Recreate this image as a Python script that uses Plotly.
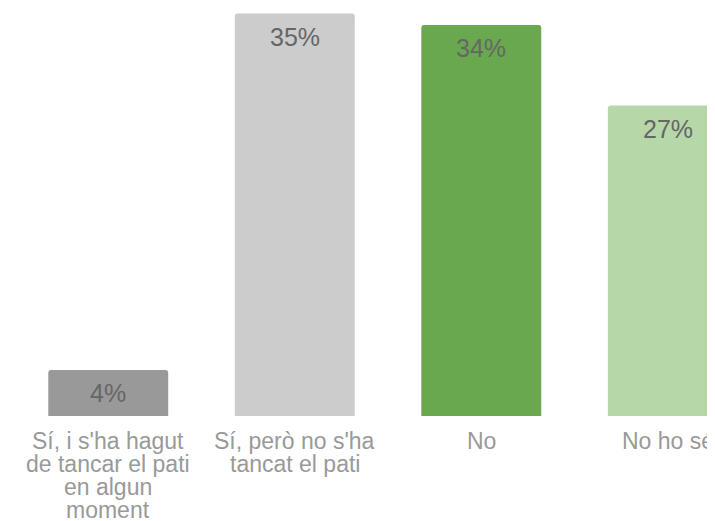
import plotly.graph_objects as go

categories = [
    ["Sí, i s'ha hagut", "de tancar el pati", "en algun", "moment"],
    ["Sí, però no s'ha", "tancat el pati"],
    ["No"],
    ["No ho sé"],
]
values = [4, 35, 34, 27]
labels = ["4%", "35%", "34%", "27%"]
colors = ["#999999", "#cccccc", "#6aa84f", "#b6d7a8"]

FONT = "Arial, Liberation Sans, sans-serif"
xs = list(range(len(values)))

fig = go.Figure(
    go.Bar(
        x=xs,
        y=values,
        marker=dict(color=colors, line=dict(width=0)),
        hoverinfo="skip",
    )
)

annotations = []
# value labels inside the top of each bar
for x, v, t in zip(xs, values, labels):
    annotations.append(dict(
        x=x, y=v, xref="x", yref="y", text=t, showarrow=False,
        xanchor="center", yanchor="middle", yshift=-23,
        font=dict(family=FONT, size=25, color="#666666"),
    ))
# category labels below the bars (tight line spacing)
for x, lines in zip(xs, categories):
    for k, line in enumerate(lines):
        annotations.append(dict(
            x=x, y=0, xref="x", yref="y", text=line, showarrow=False,
            xanchor="center", yanchor="middle", yshift=-(25 + 23 * k),
            font=dict(family=FONT, size=23, color="#999999"),
        ))

fig.update_layout(
    width=707,
    height=513,
    margin=dict(l=7, r=0, t=0, b=105),
    plot_bgcolor="white",
    paper_bgcolor="white",
    bargap=0.357,
    barcornerradius=3,
    showlegend=False,
    font=dict(family=FONT),
    annotations=annotations,
    xaxis=dict(
        range=[-0.5, 3.253],
        showticklabels=False,
        showgrid=False,
        zeroline=False,
        showline=False,
        ticks="",
        fixedrange=True,
    ),
    yaxis=dict(
        range=[0, 35.48],
        visible=False,
        showgrid=False,
        zeroline=False,
        fixedrange=True,
    ),
)

fig.write_html("out.html")
